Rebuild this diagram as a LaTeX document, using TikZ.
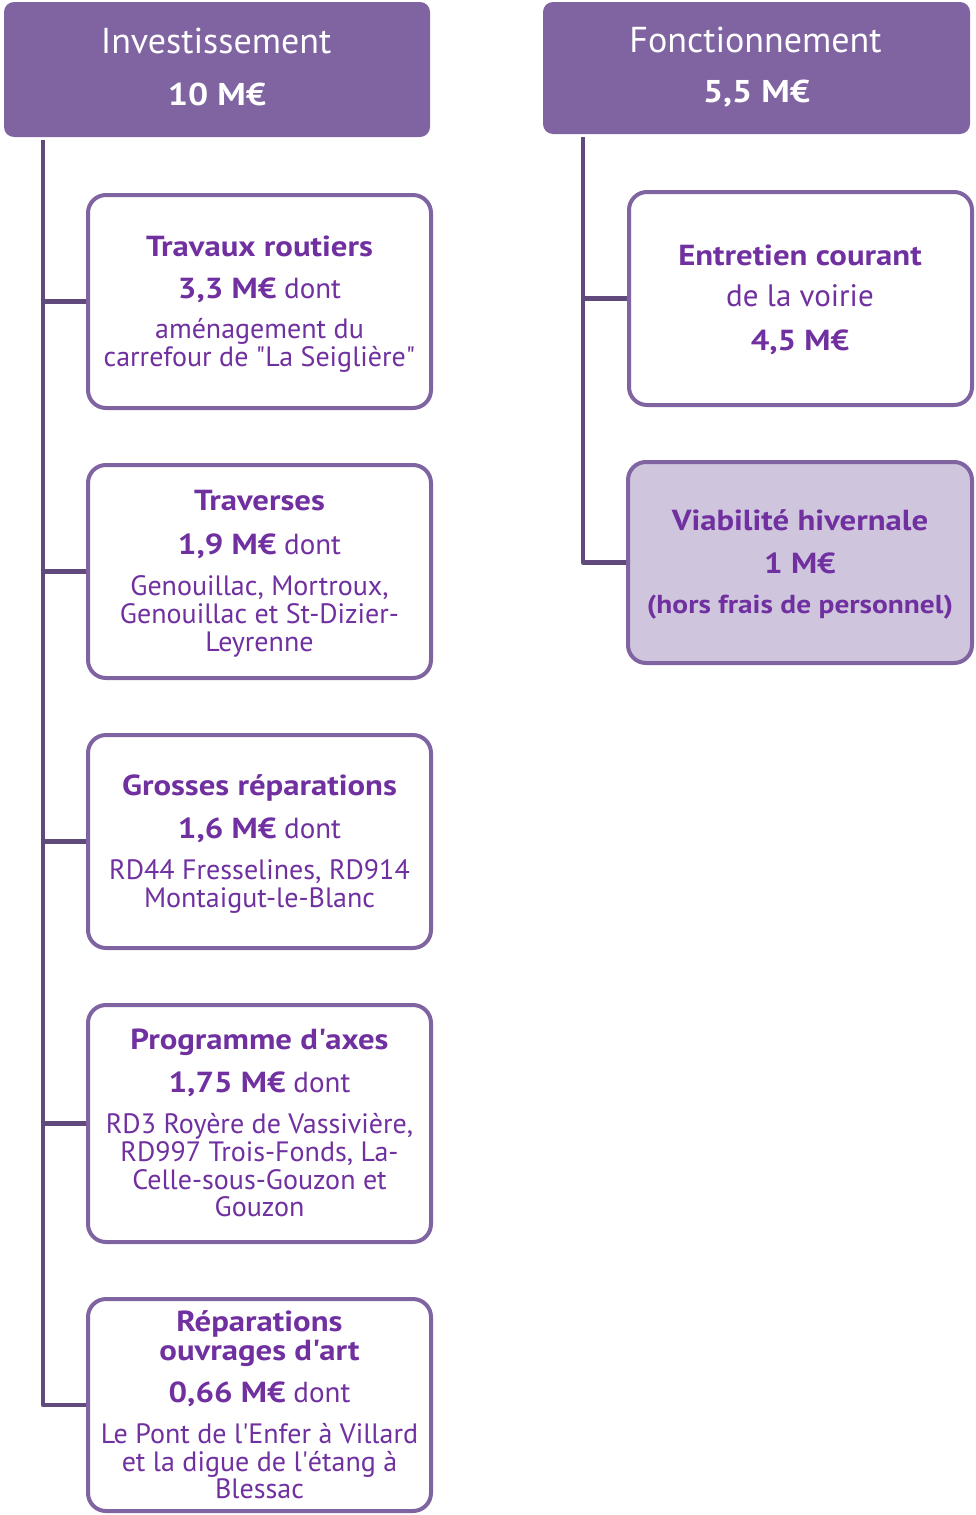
\documentclass[tikz,border=0pt]{standalone}
\usepackage{fontspec}
\setmainfont{PT Sans}[BoldFeatures={FakeStretch=1.13}]
\definecolor{hdrc}{HTML}{8064A2}
\definecolor{boxc}{HTML}{8064A2}
\definecolor{linec}{HTML}{604A7B}
\definecolor{txtc}{HTML}{7030A0}
\definecolor{lightc}{HTML}{CFC6DD}
\newcommand\fhdr{\fontsize{36}{36}\selectfont}
\newcommand\fhdb{\fontsize{31.5}{31.5}\selectfont\bfseries}
\newcommand\fttl{\fontsize{29}{29}\selectfont}
\newcommand\fdet{\fontsize{28}{28}\selectfont}
\newcommand\fsmb{\fontsize{26}{26}\selectfont\bfseries}
\newcommand\fbig{\fontsize{31}{31}\selectfont}
\tikzset{
  hdr/.style={fill=hdrc, rounded corners=10pt, inner sep=0pt},
  boxnode/.style={draw=boxc, line width=4pt, rounded corners=18pt, fill=white, inner sep=0pt},
  conn/.style={draw=linec, line width=4.5pt, line join=round},
  hl/.style={anchor=base, text=white, inner sep=0pt, font=\fhdr},
  tl/.style={anchor=base, text=txtc, inner sep=0pt, font=\fttl},
  dl/.style={anchor=base, text=txtc, inner sep=0pt, font=\fdet},
}
\begin{document}
\begin{tikzpicture}[x=1pt,y=-1pt]
\useasboundingbox (0,0) rectangle (976,1515);
% headers
\node[hdr, minimum width=426pt, minimum height=135pt] (hI) at (217,69.5) {};
\node[hdr, minimum width=427pt, minimum height=132pt] (hF) at (756.5,68) {};
\node[hl] (hI1) at (216,53) {Investissement};
\node[hl, font=\fhdb] (hI2) at (217,105) {10 M€};
\node[hl] (hF1) at (755.5,52.5) {Fonctionnement};
\node[hl, font=\fhdb] (hF2) at (756.5,102) {5,5 M€};
% left boxes
\node[boxnode, minimum width=343pt, minimum height=213pt] (b1) at (259.5,301.5) {};
\node[boxnode, minimum width=343pt, minimum height=213pt] (b2) at (259.5,571.5) {};
\node[boxnode, minimum width=343pt, minimum height=213pt] (b3) at (259.5,841.5) {};
\node[boxnode, minimum width=343pt, minimum height=237pt] (b4) at (259.5,1123.5) {};
\node[boxnode, minimum width=343pt, minimum height=212pt] (b5) at (259.5,1405) {};
% right boxes
\node[boxnode, minimum width=343pt, minimum height=213pt] (r1) at (800.5,298.5) {};
\node[boxnode, fill=lightc, minimum width=344pt, minimum height=201pt] (r2) at (800,562.5) {};
% connectors
\coordinate (tI) at (43,140);
\coordinate (tF) at (583,137);
\draw[conn] (tI |- b1.west) -- (b1.west);
\draw[conn] (tI |- b2.west) -- (b2.west);
\draw[conn] (tI |- b3.west) -- (b3.west);
\draw[conn] (tI |- b4.west) -- (b4.west);
\draw[conn] (tI) |- (b5.west);
\draw[conn] (tF |- r1.west) -- (r1.west);
\draw[conn] (tF) |- (r2.west);
% box 1
\node[tl] (b1a) at (259.5,256) {\bfseries Travaux routiers};
\node[tl] (b1b) at (259.5,298) {\textbf{3,3 M€} dont};
\node[dl] (b1c) at (259.5,338) {aménagement du};
\node[dl] (b1d) at (259.5,366.5) {carrefour de \textquotedbl La Seiglière\textquotedbl};
% box 2
\node[tl] (b2a) at (259.5,510) {\bfseries Traverses};
\node[tl] (b2b) at (259.5,554) {\textbf{1,9 M€} dont};
\node[dl] (b2c) at (259.5,595) {Genouillac, Mortroux,};
\node[dl] (b2d) at (259.5,623) {Genouillac et St-Dizier-};
\node[dl] (b2e) at (259.5,651) {Leyrenne};
% box 3
\node[tl] (b3a) at (259.5,795) {\bfseries Grosses réparations};
\node[tl] (b3b) at (259.5,838) {\textbf{1,6 M€} dont};
\node[dl] (b3c) at (259.5,879) {RD44 Fresselines, RD914};
\node[dl] (b3d) at (259.5,907) {Montaigut-le-Blanc};
% box 4
\node[tl] (b4a) at (259.5,1049) {\bfseries Programme d\textquotesingle axes};
\node[tl] (b4b) at (259.5,1092) {\textbf{1,75 M€} dont};
\node[dl] (b4c) at (259.5,1133) {RD3 Royère de Vassivière,};
\node[dl] (b4d) at (259.5,1161) {RD997 Trois-Fonds, La-};
\node[dl] (b4e) at (259.5,1189) {Celle-sous-Gouzon et};
\node[dl] (b4f) at (259.5,1216) {Gouzon};
% box 5
\node[tl] (b5a) at (259.5,1331) {\bfseries Réparations};
\node[tl] (b5b) at (259.5,1360) {\bfseries ouvrages d\textquotesingle art};
\node[tl] (b5c) at (259.5,1402) {\textbf{0,66 M€} dont};
\node[dl] (b5d) at (259.5,1443) {Le Pont de l\textquotesingle Enfer à Villard};
\node[dl] (b5e) at (259.5,1471) {et la digue de l\textquotesingle étang à};
\node[dl] (b5f) at (259.5,1498) {Blessac};
% right box 1
\node[tl] (r1a) at (800,265) {\bfseries Entretien courant};
\node[tl, font=\fbig] (r1b) at (800,306.5) {de la voirie};
\node[tl] (r1c) at (800,350) {\bfseries 4,5 M€};
% right box 2
\node[tl] (r2a) at (800,530) {\bfseries Viabilité hivernale};
\node[tl] (r2b) at (800,573) {\bfseries 1 M€};
\node[tl, font=\fsmb] (r2c) at (800,613) {(hors frais de personnel)};
\end{tikzpicture}
\end{document}
